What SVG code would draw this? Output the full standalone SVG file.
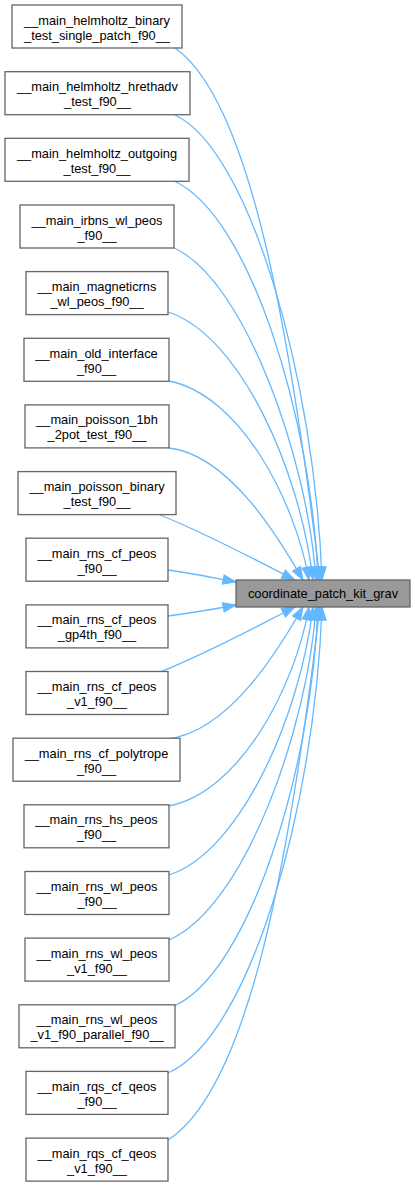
<svg xmlns="http://www.w3.org/2000/svg" width="415" height="1187" viewBox="0 0 415 1187">
<style>
.n rect{fill:#ffffff;stroke:#666666;stroke-width:1.3}
.t rect{fill:#999999;stroke:#666666;stroke-width:1.3}
text{font-family:"Liberation Sans",Arial,sans-serif;font-size:12.8px;fill:#000000;text-anchor:middle}
.e path{fill:none;stroke:#63b8ff;stroke-width:1.3;marker-end:url(#ah)}
</style>
<defs>
<marker id="ah" markerUnits="userSpaceOnUse" markerWidth="14" markerHeight="10" viewBox="0 0 14 10" refX="13" refY="4.7" orient="auto" overflow="visible">
<path d="M0,0 L13,4.7 L0,9.4 Z" fill="#63b8ff" stroke="#63b8ff" stroke-width="1"/>
</marker>
</defs>
<rect width="415" height="1187" fill="#ffffff"/>
<g id="edges" class="e">
<path d="M175,48 C250,100 290,330 320,580"/>
<path d="M175,115 C250,150 315,380 322,580"/>
<path d="M174,181 C250,215 312,420 318,580"/>
<path d="M174,248 C245,280 308,460 316,580"/>
<path d="M168,312 C240,335 300,470 313,580"/>
<path d="M169,381 C240,395 295,500 309,580"/>
<path d="M169,448 C230,455 280,540 303,580"/>
<path d="M160,515 C210,535 255,560 295,580"/>
<path d="M168,570 C190,573 210,577 236,582"/>
<path d="M168,616 C190,613 210,610 236,605"/>
<path d="M160,672 C210,652 255,627 295,607"/>
<path d="M167,739 C230,732 280,647 303,607"/>
<path d="M169,806 C240,792 295,687 309,607"/>
<path d="M169,875 C240,852 300,717 313,607"/>
<path d="M169,940 C245,907 308,727 316,607"/>
<path d="M174,1006 C250,972 312,767 318,607"/>
<path d="M168,1073 C250,1037 315,807 322,607"/>
<path d="M168,1140 C250,1087 290,857 320,607"/>
</g>
<g id="target" class="t">
<rect x="236" y="580" width="174" height="27"/>
<text x="323" y="597.5">coordinate_patch_kit_grav</text>
</g>
<g id="n1" class="n"><rect x="12" y="5" width="170" height="43"/><text x="97" y="24.5">__main_helmholtz_binary</text><text x="97" y="39.5">_test_single_patch_f90__</text></g>
<g id="n2" class="n"><rect x="5" y="71.7" width="185" height="43"/><text x="97.5" y="91.2">__main_helmholtz_hrethadv</text><text x="97.5" y="106.2">_test_f90__</text></g>
<g id="n3" class="n"><rect x="5" y="138.3" width="184" height="43"/><text x="97" y="157.8">__main_helmholtz_outgoing</text><text x="97" y="172.8">_test_f90__</text></g>
<g id="n4" class="n"><rect x="20" y="205" width="154" height="43"/><text x="97" y="224.5">__main_irbns_wl_peos</text><text x="97" y="239.5">_f90__</text></g>
<g id="n5" class="n"><rect x="26" y="271.6" width="142" height="43"/><text x="97" y="291.1">__main_magneticrns</text><text x="97" y="306.1">_wl_peos_f90__</text></g>
<g id="n6" class="n"><rect x="24" y="338.3" width="145" height="43"/><text x="96.5" y="357.8">__main_old_interface</text><text x="96.5" y="372.8">_f90__</text></g>
<g id="n7" class="n"><rect x="25" y="404.9" width="144" height="43"/><text x="97" y="424.4">__main_poisson_1bh</text><text x="97" y="439.4">_2pot_test_f90__</text></g>
<g id="n8" class="n"><rect x="18" y="471.6" width="158" height="43"/><text x="97" y="491.1">__main_poisson_binary</text><text x="97" y="506.1">_test_f90__</text></g>
<g id="n9" class="n"><rect x="26" y="538.2" width="142" height="43"/><text x="97" y="557.7">__main_rns_cf_peos</text><text x="97" y="572.7">_f90__</text></g>
<g id="n10" class="n"><rect x="26" y="604.9" width="142" height="43"/><text x="97" y="624.4">__main_rns_cf_peos</text><text x="97" y="639.4">_gp4th_f90__</text></g>
<g id="n11" class="n"><rect x="26" y="671.5" width="142" height="43"/><text x="97" y="691">__main_rns_cf_peos</text><text x="97" y="706">_v1_f90__</text></g>
<g id="n12" class="n"><rect x="13" y="738.2" width="167" height="43"/><text x="96.5" y="757.7">__main_rns_cf_polytrope</text><text x="96.5" y="772.7">_f90__</text></g>
<g id="n13" class="n"><rect x="24" y="804.8" width="145" height="43"/><text x="96.5" y="824.3">__main_rns_hs_peos</text><text x="96.5" y="839.3">_f90__</text></g>
<g id="n14" class="n"><rect x="25" y="871.5" width="144" height="43"/><text x="97" y="891">__main_rns_wl_peos</text><text x="97" y="906">_f90__</text></g>
<g id="n15" class="n"><rect x="25" y="938.1" width="144" height="43"/><text x="97" y="957.6">__main_rns_wl_peos</text><text x="97" y="972.6">_v1_f90__</text></g>
<g id="n16" class="n"><rect x="19" y="1004.8" width="156" height="43"/><text x="97" y="1024.3">__main_rns_wl_peos</text><text x="97" y="1039.3">_v1_f90_parallel_f90__</text></g>
<g id="n17" class="n"><rect x="26" y="1071.4" width="142" height="43"/><text x="97" y="1090.9">__main_rqs_cf_qeos</text><text x="97" y="1105.9">_f90__</text></g>
<g id="n18" class="n"><rect x="26" y="1138.1" width="142" height="43"/><text x="97" y="1157.6">__main_rqs_cf_qeos</text><text x="97" y="1172.6">_v1_f90__</text></g>
</svg>
